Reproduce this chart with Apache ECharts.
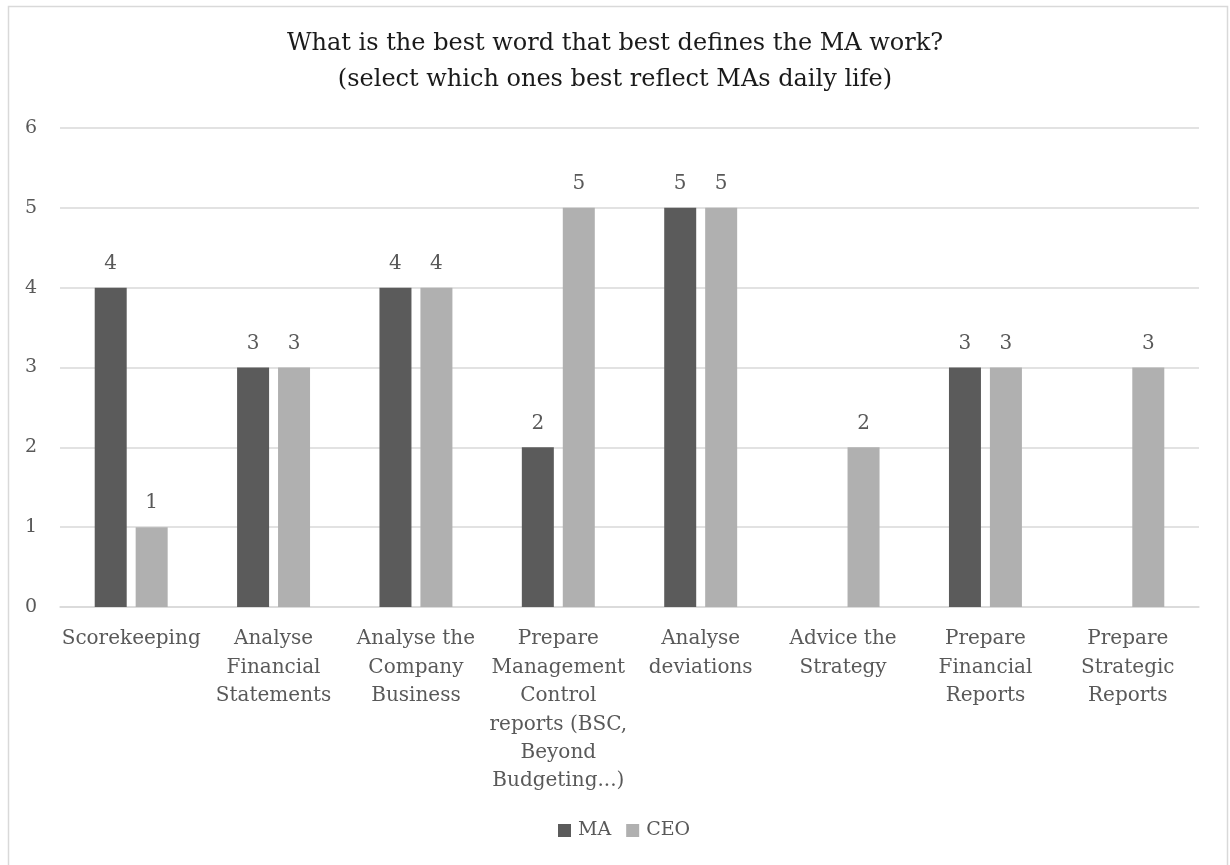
<!DOCTYPE html>
<html>
<head>
<meta charset="utf-8">
<script src="https://cdn.jsdelivr.net/npm/echarts@6/dist/echarts.min.js"></script>
<style>
  html, body { margin: 0; padding: 0; background: #ffffff; }
  #chart { width: 1230px; height: 865px; }
</style>
</head>
<body>
<div id="chart"></div>
<script>
// Survey answers: which activities best describe management accountants' work
const categories = [
  'Scorekeeping',
  'Analyse\nFinancial\nStatements',
  'Analyse the\nCompany\nBusiness',
  'Prepare\nManagement\nControl\nreports (BSC,\nBeyond\nBudgeting...)',
  'Analyse\ndeviations',
  'Advice the\nStrategy',
  'Prepare\nFinancial\nReports',
  'Prepare\nStrategic\nReports'
];
const maValues  = [4, 3, 4, 2, 5, null, 3, null];
const ceoValues = [1, 3, 4, 5, 5, 2, 3, 3];
const seriesNames = ['MA', 'CEO'];
const yTicks = [0, 1, 2, 3, 4, 5, 6];

const FONT = 'DejaVu Serif';
const TEXT = '#595959';

const chart = echarts.init(document.getElementById('chart'), null, { renderer: 'canvas' });

const labelStyle = {
  show: true,
  position: 'top',
  distance: 14,
  color: TEXT,
  fontFamily: FONT,
  fontSize: 20
};

chart.setOption({
  animation: false,
  backgroundColor: '#ffffff',
  graphic: [{
    type: 'rect',
    shape: { x: 8.5, y: 6.5, width: 1219, height: 870 },
    style: { fill: 'none', stroke: '#d9d9d9', lineWidth: 1.5 },
    silent: true
  }],
  title: {
    text: 'What is the best word that best defines the MA work?\n(select which ones best reflect MAs daily life)',
    left: 'center',
    top: 21,
    textStyle: {
      fontFamily: FONT,
      fontWeight: 'normal',
      fontSize: 24,
      lineHeight: 36,
      color: '#1a1a1a'
    }
  },
  legend: {
    data: seriesNames,
    bottom: 20,
    left: 553,
    itemWidth: 13,
    itemHeight: 13,
    itemGap: 15,
    icon: 'rect',
    textStyle: { fontFamily: FONT, fontSize: 19, color: TEXT, padding: [0, 0, 0, 2] }
  },
  grid: {
    left: 60,
    right: 31,
    top: 128,
    bottom: 258,
    containLabel: false
  },
  xAxis: {
    type: 'category',
    data: categories,
    axisLine: { show: true, lineStyle: { color: '#d9d9d9', width: 1.5 } },
    axisTick: { show: false },
    axisLabel: {
      interval: 0,
      margin: 18,
      fontFamily: FONT,
      fontSize: 20,
      lineHeight: 28.4,
      color: TEXT,
      verticalAlign: 'top'
    }
  },
  yAxis: {
    type: 'value',
    min: yTicks[0],
    max: yTicks[yTicks.length - 1],
    interval: 1,
    axisLine: { show: false },
    axisTick: { show: false },
    splitLine: { lineStyle: { color: '#d9d9d9', width: 1.5 } },
    axisLabel: {
      margin: 23,
      fontFamily: FONT,
      fontSize: 19,
      color: TEXT
    }
  },
  series: [
    {
      name: seriesNames[0],
      type: 'bar',
      data: maValues,
      barWidth: 32,
      barGap: '28%',
      itemStyle: { color: '#5b5b5b' },
      label: labelStyle
    },
    {
      name: seriesNames[1],
      type: 'bar',
      data: ceoValues,
      barWidth: 32,
      barGap: '28%',
      itemStyle: { color: '#b0b0b0' },
      label: labelStyle
    }
  ]
});
</script>
</body>
</html>
